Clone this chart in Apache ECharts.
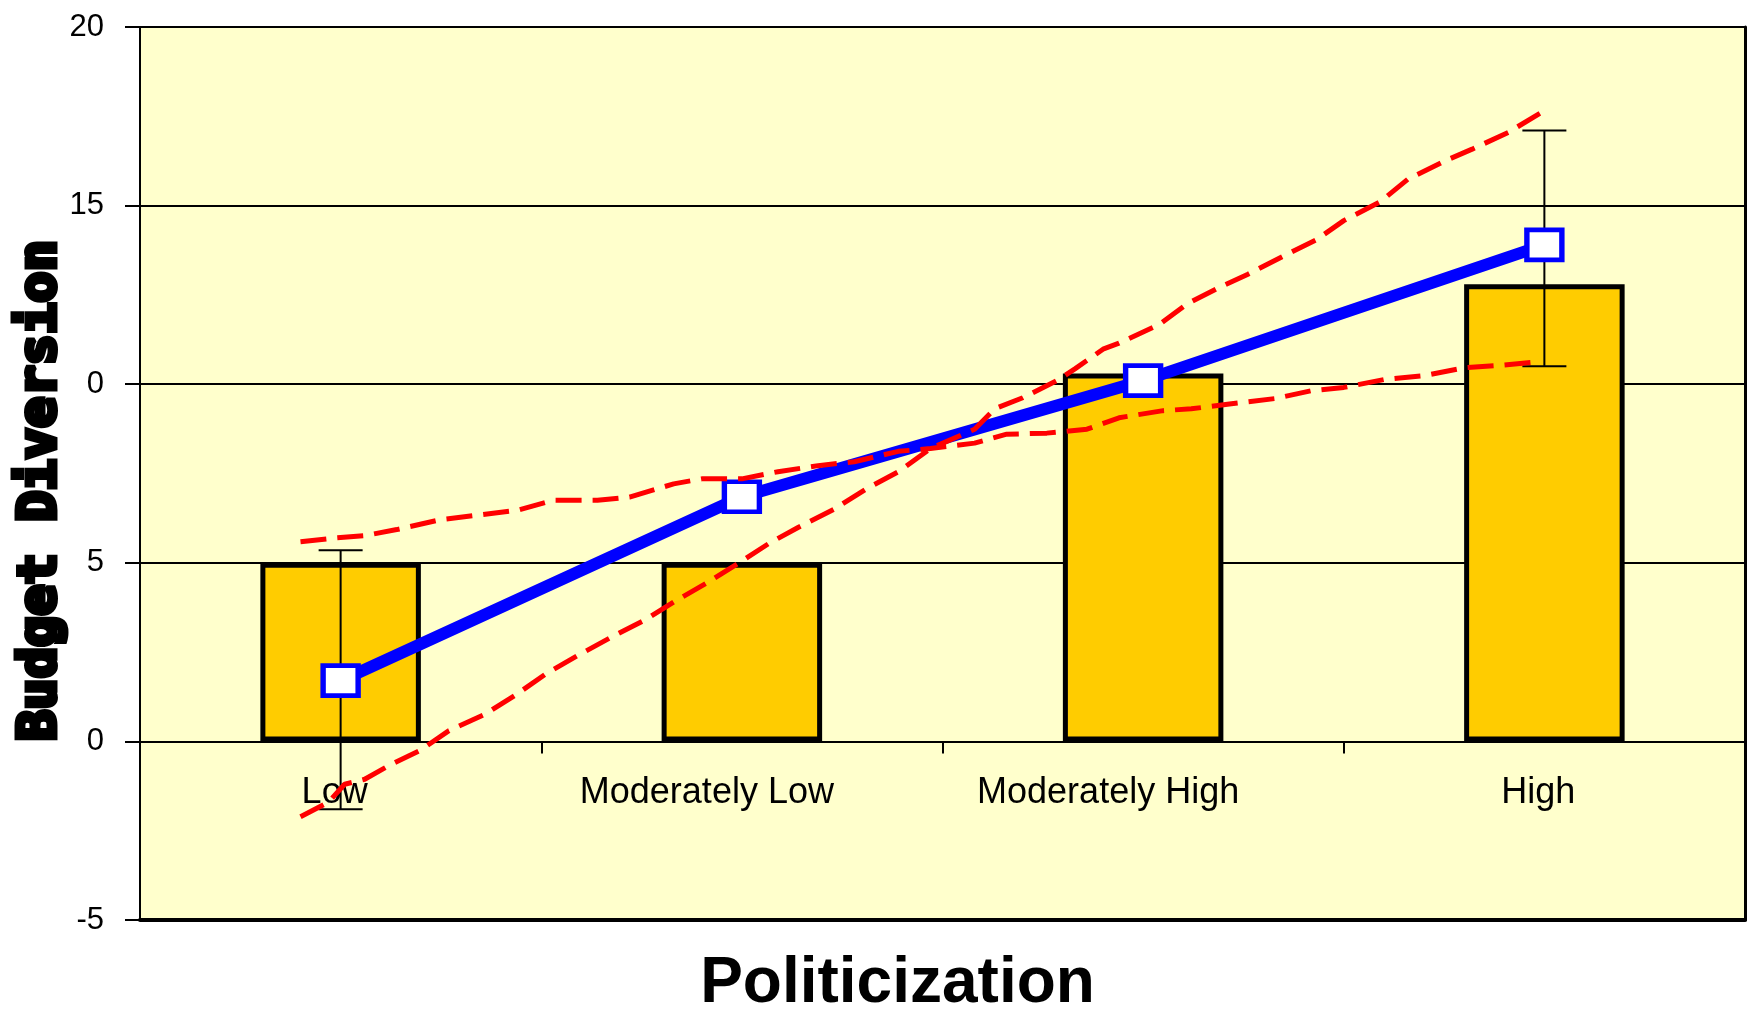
<!DOCTYPE html>
<html>
<head>
<meta charset="utf-8">
<title>Budget Diversion by Politicization</title>
<script src="https://cdn.jsdelivr.net/npm/echarts@6/dist/echarts.min.js"></script>
<style>
  html, body { margin: 0; padding: 0; background: #ffffff; }
  #chart { width: 1756px; height: 1009px; }
</style>
</head>
<body>
<div id="chart"></div>
<script>
// categories and values
const categories = ['Low', 'Moderately Low', 'Moderately High', 'High']
const barValues = [5.0, 5.0, 10.3, 12.8]
const meanValues = [1.7, 6.85, 10.1, 13.9]
const errLow = [-1.9, null, null, 10.5]
const errHigh = [5.35, null, null, 17.1]
const yTickLabels = ['-5', '0', '5', '0', '15', '20']

// red dashed lines, x runs 0..4 across the four categories
const steepX = [0.40, 0.47, 0.51, 0.56, 0.62, 0.70, 0.77, 0.86, 0.94, 1.01, 1.09, 1.17, 1.26, 1.33, 1.41,
  1.50, 1.57, 1.64, 1.73, 1.81, 1.89, 1.97, 2.08, 2.13, 2.20, 2.29, 2.33, 2.40, 2.44, 2.54, 2.61,
  2.69, 2.76, 2.85, 2.93, 3.00, 3.09, 3.16, 3.25, 3.32, 3.41, 3.50]
const steepY = [-2.11, -1.70, -1.20, -1.06, -0.68, -0.24, 0.30, 0.76, 1.33, 1.88, 2.40, 2.89, 3.41, 3.90, 4.42,
  5.05, 5.56, 5.99, 6.50, 7.07, 7.55, 8.20, 8.74, 9.31, 9.62, 10.13, 10.43, 10.98, 11.15, 11.67, 12.25,
  12.71, 13.07, 13.59, 14.03, 14.58, 15.10, 15.74, 16.24, 16.58, 17.05, 17.66]
const flatX = [0.40, 0.49, 0.56, 0.64, 0.75, 0.84, 0.94, 1.03, 1.14, 1.22, 1.33, 1.40, 1.50, 1.59, 1.69,
  1.78, 1.89, 1.97, 2.08, 2.16, 2.26, 2.36, 2.44, 2.55, 2.62, 2.72, 2.83, 2.92, 3.00, 3.10, 3.20,
  3.30, 3.38, 3.48]
const flatY = [5.59, 5.70, 5.76, 5.93, 6.21, 6.33, 6.47, 6.75, 6.75, 6.84, 7.21, 7.35, 7.35, 7.55, 7.72,
  7.83, 8.12, 8.20, 8.35, 8.60, 8.63, 8.74, 9.06, 9.26, 9.31, 9.45, 9.60, 9.82, 9.91, 10.13, 10.24,
  10.46, 10.52, 10.62]

const FONT = "'Liberation Sans', Arial, sans-serif"

// grid box
const GRID_TOP = 27
const GRID_BOTTOM = 89
const GRID_H = 1009 - GRID_TOP - GRID_BOTTOM
const Y_MIN = -5
const Y_MAX = 20
// category axis sits on the zero line
const zeroOffset = -GRID_H * (0 - Y_MIN) / (Y_MAX - Y_MIN)

const pairs = (xs, ys) => xs.map((x, i) => [x, ys[i]])

const errData = []
categories.forEach((c, i) => {
  if (errLow[i] != null) errData.push([i, errLow[i], errHigh[i]])
})

const chart = echarts.init(document.getElementById('chart'))

const option = {
  backgroundColor: '#ffffff',
  animation: false,
  grid: {
    left: 140,
    right: 11,
    top: GRID_TOP,
    bottom: GRID_BOTTOM,
    outerBoundsMode: 'none',
    show: true,
    backgroundColor: '#FFFFCC',
    borderWidth: 0
  },
  xAxis: [
    {
      type: 'category',
      data: categories,
      position: 'bottom',
      offset: zeroOffset,
      axisLine: { onZero: false, lineStyle: { color: '#000', width: 2 } },
      axisTick: { show: true, interval: 0, length: 12, lineStyle: { color: '#000', width: 2 } },
      axisLabel: {
        interval: 0,
        margin: 34,
        color: '#000',
        fontFamily: FONT,
        fontSize: 36,
        formatter: (v) => (v.length > 6 ? '{b|' + v + '}' : '{a|' + v + '}'),
        rich: {
          a: { fontFamily: FONT, fontSize: 36, color: '#000', padding: [0, 12, 0, 0] },
          b: { fontFamily: FONT, fontSize: 36, color: '#000', padding: [0, 70, 0, 0] }
        }
      },
      splitLine: { show: false }
    },
    {
      // hidden value axis for the dashed lines; its line is the bottom frame
      type: 'value',
      min: 0,
      max: 4,
      position: 'bottom',
      axisLine: { show: true, onZero: false, lineStyle: { color: '#000', width: 4 } },
      axisTick: { show: false },
      axisLabel: { show: false },
      splitLine: { show: false },
      name: 'Politicization',
      nameLocation: 'middle',
      nameGap: 32,
      nameTextStyle: {
        fontFamily: FONT,
        fontSize: 64,
        fontWeight: 'bold',
        color: '#000',
        padding: [0, 90, 0, 0]
      }
    }
  ],
  yAxis: [
    {
      type: 'value',
      min: Y_MIN,
      max: Y_MAX,
      interval: 5,
      axisLine: { show: true, onZero: false, lineStyle: { color: '#000', width: 2 } },
      axisTick: { show: true, length: 15, lineStyle: { color: '#000', width: 2 } },
      axisLabel: {
        margin: 36,
        color: '#000',
        fontFamily: FONT,
        fontSize: 31,
        formatter: (v) => yTickLabels[Math.round((v - Y_MIN) / 5)]
      },
      splitLine: { show: true, lineStyle: { color: '#000', width: 2 } },
      name: 'Budget Diversion',
      nameLocation: 'middle',
      nameGap: 73,
      nameMoveOverlap: false,
      nameRotate: 90,
      nameTextStyle: {
        fontFamily: "'DejaVu Sans Mono', monospace",
        fontWeight: 'bold',
        fontSize: 52,
        color: '#000',
        textBorderColor: '#000',
        textBorderWidth: 5,
        padding: [0, 34, 0, 0]
      }
    },
    {
      // right frame
      type: 'value',
      min: Y_MIN,
      max: Y_MAX,
      interval: 5,
      position: 'right',
      axisLine: { show: true, onZero: false, lineStyle: { color: '#000', width: 3 } },
      axisTick: { show: false },
      axisLabel: { show: false },
      splitLine: { show: false }
    }
  ],
  series: [
    {
      type: 'bar',
      name: 'bars',
      data: barValues,
      barWidth: '40%',
      itemStyle: { color: '#FFCC00', borderColor: '#000', borderWidth: 5 },
      z: 2
    },
    {
      type: 'custom',
      name: 'error',
      data: errData,
      renderItem: (params, api) => {
        const lo = api.coord([api.value(0), api.value(1)])
        const hi = api.coord([api.value(0), api.value(2)])
        const cap = 22
        const style = { stroke: '#000', lineWidth: 2 }
        return {
          type: 'group',
          children: [
            { type: 'line', shape: { x1: hi[0], y1: hi[1], x2: lo[0], y2: lo[1] }, style },
            { type: 'line', shape: { x1: hi[0] - cap, y1: hi[1], x2: hi[0] + cap, y2: hi[1] }, style },
            { type: 'line', shape: { x1: lo[0] - cap, y1: lo[1], x2: lo[0] + cap, y2: lo[1] }, style }
          ]
        }
      },
      z: 3
    },
    {
      type: 'line',
      name: 'mean',
      data: meanValues,
      lineStyle: { color: '#0000FF', width: 12 },
      symbol: 'rect',
      symbolSize: [35, 30],
      itemStyle: { color: '#ffffff', borderColor: '#0000FF', borderWidth: 5 },
      z: 4
    },
    {
      type: 'line',
      name: 'steep',
      xAxisIndex: 1,
      data: pairs(steepX, steepY),
      symbol: 'none',
      lineStyle: { color: '#FF0000', width: 5, type: [26, 11] },
      z: 5
    },
    {
      type: 'line',
      name: 'flat',
      xAxisIndex: 1,
      data: pairs(flatX, flatY),
      symbol: 'none',
      lineStyle: { color: '#FF0000', width: 5, type: [26, 11] },
      z: 5
    }
  ]
}

chart.setOption(option)
</script>
</body>
</html>
